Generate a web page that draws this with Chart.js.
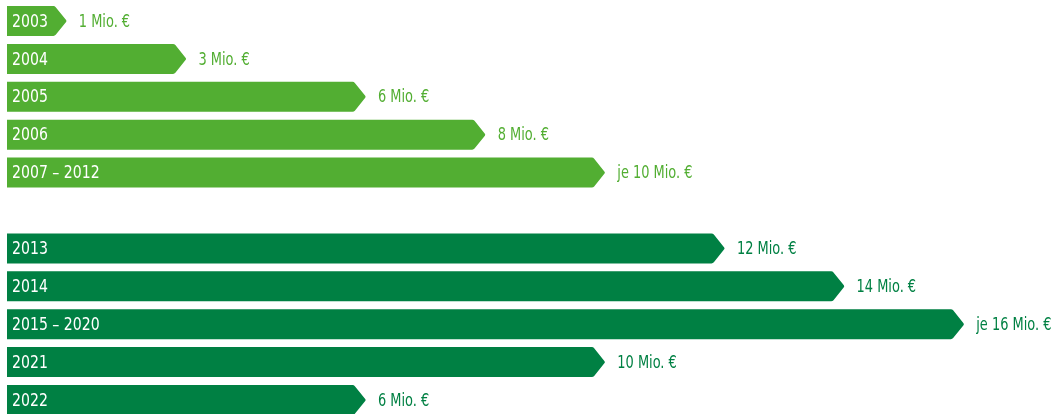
<!DOCTYPE html>
<html lang="de">
<head>
<meta charset="utf-8">
<script src="https://cdn.jsdelivr.net/npm/chart.js@4"></script>
<style>
  html, body { margin: 0; padding: 0; background: #fff; }
  canvas { display: block; }
</style>
</head>
<body>
<canvas id="chart" width="1054" height="414"></canvas>
<script>
// Förderbeträge je Jahr (leere Kategorie = Abstand zwischen den beiden Phasen)
const categories = ["2003", "2004", "2005", "2006", "2007 – 2012", "", "2013", "2014", "2015 – 2020", "2021", "2022"]
const amounts = [1, 3, 6, 8, 10, null, 12, 14, 16, 10, 6]
const amountLabels = ["1 Mio. €", "3 Mio. €", "6 Mio. €", "8 Mio. €", "je 10 Mio. €", "", "12 Mio. €", "14 Mio. €", "je 16 Mio. €", "10 Mio. €", "6 Mio. €"]
const phases = [1, 1, 1, 1, 1, 0, 2, 2, 2, 2, 2]

const phaseColors = { 1: "#52ae32", 2: "#008043" }
const FONT = "'Liberation Sans Narrow', 'DejaVu Sans Condensed', 'Roboto', sans-serif"
const TIP = 12

// schmale Schrift nachbilden: Text horizontal stauchen
function narrowText(ctx, text, x, y, scaleX) {
  ctx.save()
  ctx.translate(x, y)
  ctx.scale(scaleX, 1)
  ctx.fillText(text, 0, 0)
  ctx.restore()
}

// Pfeilbalken + Beschriftungen aus den Element-Positionen der Skalen zeichnen
const arrowBars = {
  id: "arrowBars",
  afterDatasetsDraw(chart) {
    const ctx = chart.ctx
    const meta = chart.getDatasetMeta(0)
    ctx.save()
    meta.data.forEach((bar, i) => {
      if (amounts[i] == null) return
      const { x, y, base, height } = bar.getProps(["x", "y", "base", "height"], true)
      const top = y - height / 2
      const bottom = y + height / 2
      const color = phaseColors[phases[i]]

      ctx.fillStyle = color
      ctx.beginPath()
      ctx.moveTo(base, top)
      ctx.arcTo(x - TIP, top, x, y, 3)
      ctx.arcTo(x, y, x - TIP, bottom, 1.5)
      ctx.arcTo(x - TIP, bottom, base, bottom, 3)
      ctx.lineTo(base, bottom)
      ctx.closePath()
      ctx.fill()

      ctx.textBaseline = "middle"
      ctx.textAlign = "left"
      ctx.fillStyle = "#ffffff"
      ctx.font = `18px ${FONT}`
      narrowText(ctx, categories[i], base + 5, y + 1, 0.87)

      ctx.fillStyle = color
      ctx.font = `18px ${FONT}`
      narrowText(ctx, amountLabels[i], x + 12, y + 1, 0.8)
    })
    ctx.restore()
  }
}

new Chart(document.getElementById("chart"), {
  type: "bar",
  data: {
    labels: categories,
    datasets: [{
      data: amounts,
      backgroundColor: "rgba(0,0,0,0)",
      barThickness: 30,
      clip: false
    }]
  },
  options: {
    indexAxis: "y",
    responsive: false,
    animation: false,
    devicePixelRatio: 1,
    layout: { padding: { left: 7, right: 0, top: 21, bottom: 14 } },
    plugins: {
      legend: { display: false },
      tooltip: { enabled: false }
    },
    scales: {
      x: { display: false, min: 0, max: 17.5 },
      y: { display: false, offset: false, grid: { display: false } }
    }
  },
  plugins: [arrowBars]
})
</script>
</body>
</html>
